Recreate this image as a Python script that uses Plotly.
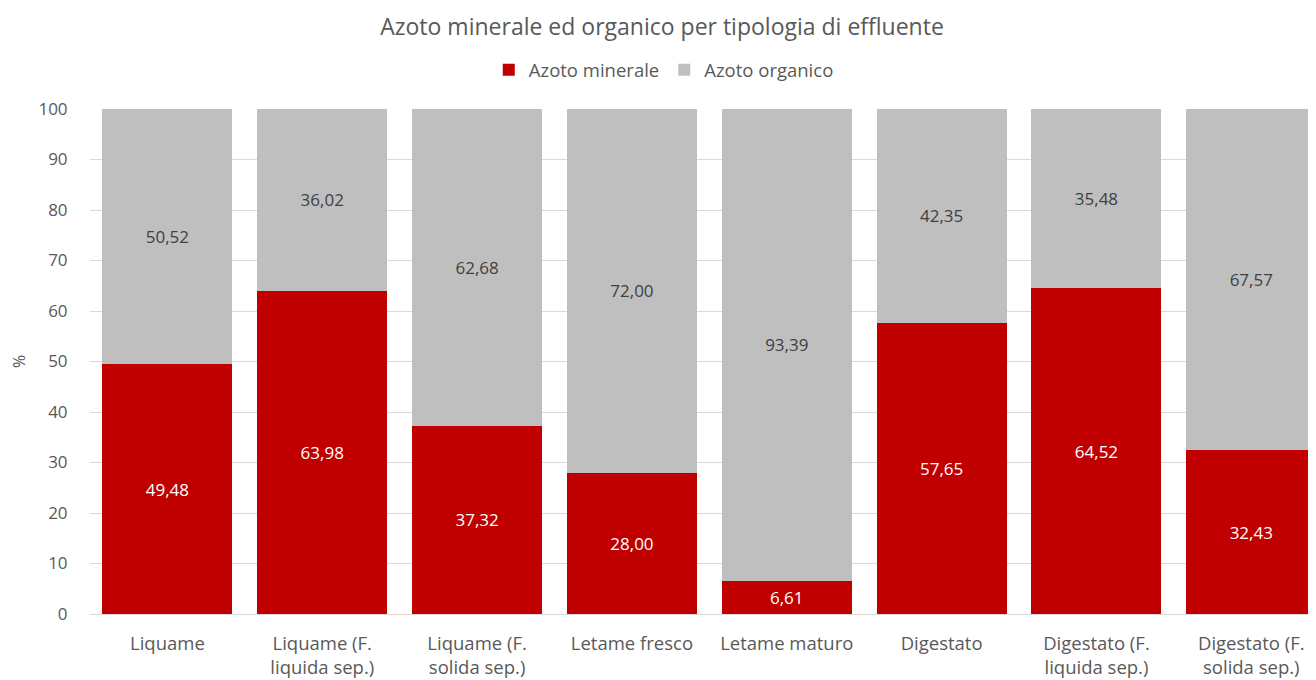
import plotly.graph_objects as go

categories = ["Liquame", "Liquame (F.<br>liquida sep.)", "Liquame (F.<br>solida sep.)",
              "Letame fresco", "Letame maturo", "Digestato",
              "Digestato (F.<br>liquida sep.)", "Digestato (F.<br>solida sep.)"]
azoto_minerale = [49.48, 63.98, 37.32, 28.00, 6.61, 57.65, 64.52, 32.43]
azoto_organico = [50.52, 36.02, 62.68, 72.00, 93.39, 42.35, 35.48, 67.57]

def fmt(v):
    return f"{v:.2f}".replace(".", ",")

x = list(range(len(categories)))
font_family = "'Open Sans', sans-serif"

fig = go.Figure()
fig.add_trace(go.Bar(
    x=x, y=azoto_minerale, name="Azoto minerale",
    marker=dict(color="#C00000", line=dict(width=0)),
    text=[fmt(v) for v in azoto_minerale], textposition="inside",
    insidetextanchor="middle", textangle=0,
    textfont=dict(color="white", size=17, family=font_family),
))
fig.add_trace(go.Bar(
    x=x, y=azoto_organico, name="Azoto organico",
    marker=dict(color="#BFBFBF", line=dict(width=0)),
    text=[fmt(v) for v in azoto_organico], textposition="inside",
    insidetextanchor="middle", textangle=0,
    textfont=dict(color="#404040", size=17, family=font_family),
))

fig.update_layout(
    barmode="stack", bargap=0.16,
    width=1308, height=672,
    margin=dict(l=81.5, r=0, t=101, b=66, autoexpand=False),
    paper_bgcolor="white", plot_bgcolor="white",
    font=dict(family=font_family, color="#595959", size=16),
    title=dict(text="Azoto minerale ed organico per tipologia di effluente",
               x=0.5, xanchor="center", y=0.9717, yanchor="middle",
               font=dict(size=23, color="#595959", family=font_family)),
    legend=dict(orientation="h", x=0.468, xanchor="center", y=1.077, yanchor="middle",
                font=dict(size=18.5, color="#595959"), traceorder="normal",
                itemwidth=30),
    showlegend=True,
)
fig.update_xaxes(
    tickmode="array", tickvals=x, ticktext=categories,
    range=[-0.5, 7.418], showgrid=False, zeroline=False,
    showline=True, linecolor="#D9D9D9", linewidth=1,
    tickfont=dict(size=18.5, color="#595959"), automargin=False,
    ticks="outside", ticklen=13, tickcolor="rgba(0,0,0,0)",
)
fig.update_yaxes(
    range=[0, 100], dtick=10, showgrid=True, gridcolor="#D9D9D9", gridwidth=1,
    zeroline=False, tickfont=dict(size=17, color="#595959"), automargin=False,
    title=dict(text="%", font=dict(size=16, color="#595959"), standoff=14),
    ticks="outside", ticklen=18, tickcolor="rgba(0,0,0,0)",
)

fig.write_html("out.html")
